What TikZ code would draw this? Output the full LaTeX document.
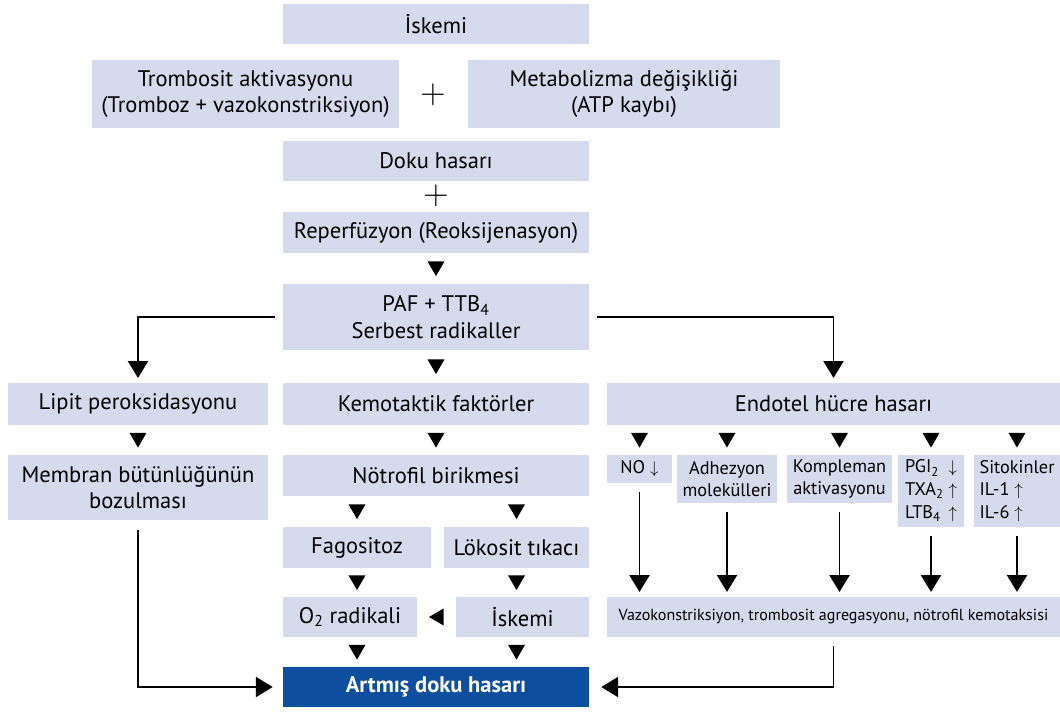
\documentclass[tikz,border=0pt]{standalone}
\usepackage{fontspec}
\setmainfont{PT Sans}
\usetikzlibrary{arrows.meta,shapes.geometric}
\definecolor{boxfill}{RGB}{213,218,236}
\definecolor{hasarblue}{RGB}{14,78,158}
\begin{document}
\begin{tikzpicture}[x=0.025cm, y=-0.025cm,
  box/.style={fill=boxfill, inner sep=0pt, align=center, font=\fontsize{16}{19}\selectfont},
  mid/.style={box, minimum width=7.65cm, minimum height=1.025cm},
  sbox/.style={box, font=\fontsize{13}{16.2}\selectfont},
  dn/.style={regular polygon, regular polygon sides=3, shape border rotate=180, fill=black, inner sep=0pt, minimum size=0.49cm, yshift=1.6pt},
  lt/.style={regular polygon, regular polygon sides=3, shape border rotate=90, fill=black, inner sep=0pt, minimum size=0.49cm, xshift=1.6pt},
  arr/.style={line width=1.4pt, -{Triangle[width=0.5cm,length=0.42cm]}},
  plus/.style={font=\fontsize{25}{25}\selectfont, inner sep=0pt}]
  \useasboundingbox (0,0) rectangle (1060,713);
  \def\cL{138} \def\cM{436} \def\cR{833.5}
  \node[mid, minimum height=1cm] (isk) at (\cM,24) {İskemi};
  \node[box, minimum width=7.675cm, minimum height=1.7cm] (tromb) at (245.5,94) {Trombosit aktivasyonu\\(Tromboz + vazokonstriksiyon)};
  \node[plus] (plusA) at (433,95) {$+$};
  \node[box, minimum width=7.8cm, minimum height=1.7cm] (meta) at (624,94) {Metabolizma değişikliği\\(ATP kaybı)};
  \node[mid, minimum height=1cm] (doku) at (\cM,161) {Doku hasarı};
  \node[plus] (plusB) at (\cM,196) {$+$};
  \node[mid] (reper) at (\cM,232.5) {Reperfüzyon (Reoksijenasyon)};
  \node[mid, minimum height=1.65cm] (paf) at (\cM,317) {PAF + TTB\textsubscript{4}\\Serbest radikaller};
  \node[box, minimum width=6.5cm, minimum height=1.05cm] (lipit) at (\cL,404) {Lipit peroksidasyonu};
  \node[mid, minimum height=1.05cm] (kemo) at (\cM,404) {Kemotaktik faktörler};
  \node[box, minimum width=11.325cm, minimum height=1.05cm] (endo) at (\cR,404) {Endotel hücre hasarı};
  \node[box, minimum width=6.5cm, minimum height=1.625cm] (memb) at (\cL,487.5) {Membran bütünlüğünün\\bozulması};
  \node[mid] (notro) at (\cM,475.5) {Nötrofil birikmesi};
  \node[box, minimum width=3.7cm, minimum height=1.025cm] (fago) at (357,547.5) {Fagositoz};
  \node[box, minimum width=3.625cm, minimum height=1.025cm] (lok) at (516.5,547.5) {Lökosit tıkacı};
  \node[box, minimum width=3.35cm, minimum height=1cm] (o2) at (350,617) {O\textsubscript{2} radikali};
  \node[box, minimum width=3.325cm, minimum height=1cm] (isk2) at (522.5,617) {İskemi};
  \node[mid, minimum height=1cm, fill=hasarblue, text=white, font=\fontsize{16}{19}\selectfont\bfseries] (art) at (\cM,687) {Artmış doku hasarı};
  \node[sbox, minimum width=1.625cm, minimum height=0.7cm] (no) at (639.5,469) {NO $\downarrow$};
  \node[sbox, minimum width=2.5cm, minimum height=1.2cm] (adh) at (727,479) {Adhezyon\\molekülleri};
  \node[sbox, minimum width=2.625cm, minimum height=1.2cm] (komp) at (839.5,479) {Kompleman\\aktivasyonu};
  \node[sbox, minimum width=1.65cm, minimum height=1.8cm] (pgi) at (931,491) {\begin{tabular}{@{}l@{\ }l@{}}PGI\textsubscript{2} & $\downarrow$\\TXA\textsubscript{2} & $\uparrow$\\LTB\textsubscript{4} & $\uparrow$\end{tabular}};
  \node[sbox, minimum width=2.15cm, minimum height=1.8cm, align=left] (sito) at (1017,491) {Sitokinler\\IL-1 $\uparrow$\\IL-6 $\uparrow$};
  \node[box, minimum width=11.325cm, minimum height=1cm, font=\fontsize{11.4}{13}\selectfont] (vazo) at (\cR,617) {Vazokonstriksiyon, trombosit agregasyonu, nötrofil kemotaksisi};
  \path (reper) -- node[dn]{} (paf);
  \path (paf) -- node[dn]{} (kemo);
  \path (lipit) -- node[dn]{} (memb);
  \path (kemo) -- node[dn]{} (notro);
  \path (notro.south -| fago) -- node[dn]{} (fago);
  \path (notro.south -| lok) -- node[dn]{} (lok);
  \path (fago) -- node[dn]{} (fago |- o2.north);
  \path (lok) -- node[dn]{} (lok |- isk2.north);
  \path (fago |- o2.south) -- node[dn]{} (fago |- art.north);
  \path (lok |- isk2.south) -- node[dn]{} (lok |- art.north);
  \path (isk2) -- node[lt]{} (o2);
  \foreach \b in {no,adh,komp,pgi,sito} {
    \path (\b.north |- endo.south) -- node[dn]{} (\b.north);
    \draw[arr, shorten <=0.22cm, shorten >=0.12cm] (\b.south) -- (\b.south |- vazo.north);
  }
  \draw[arr, shorten <=0.2cm, shorten >=0.12cm] (paf.west) -| (lipit.north);
  \draw[arr, shorten <=0.2cm, shorten >=0.12cm] (paf.east) -| (endo.north);
  \draw[arr, shorten <=0.25cm, shorten >=0.25cm] (memb.south) |- (art.west);
  \draw[arr, shorten <=0.22cm, shorten >=0.3cm] (vazo.south) |- (art.east);
\end{tikzpicture}
\end{document}
